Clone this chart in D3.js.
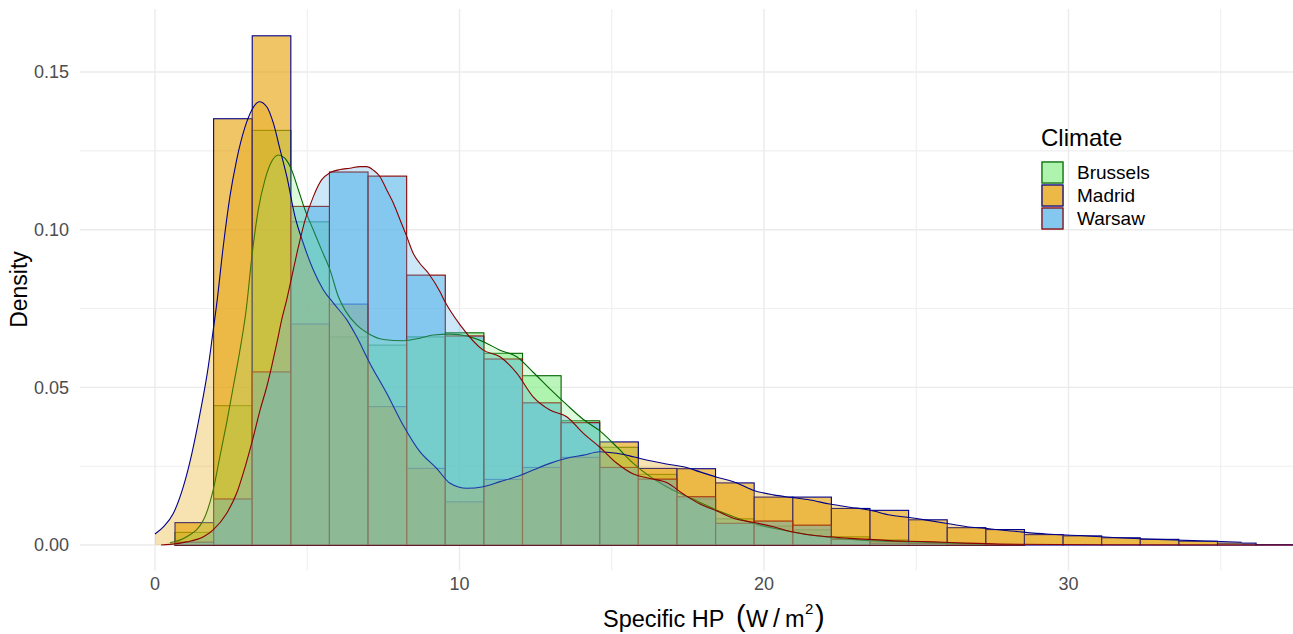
<!DOCTYPE html>
<html><head><meta charset="utf-8">
<script src="https://cdn.jsdelivr.net/npm/d3@7"></script>
<style>body{margin:0;background:#fff;} svg{display:block;font-family:"Liberation Sans",Arial,sans-serif;}</style>
</head><body><svg id="chart" width="1293" height="634"></svg>
<script>
const climates = ["Brussels", "Madrid", "Warsaw"];
const fillColors = ["#90EE90", "#E69F00", "#56B4E9"];
const lineColors = ["#006400", "#00008B", "#8B0000"];

const binEdges = [-0.611, 0.657, 1.925, 3.193, 4.461, 5.729, 6.997, 8.265, 9.533, 10.801, 12.069, 13.337, 14.605, 15.873, 17.141, 18.409, 19.677, 20.945, 22.213, 23.481, 24.749, 26.017, 27.285, 28.553, 29.821, 31.089, 32.357, 33.625, 34.893, 36.161, 37.429];

const histBrussels = [0, 0.0040, 0.0442, 0.1315, 0.1025, 0.0660, 0.0634, 0.0660, 0.0673, 0.0608, 0.0537, 0.0394, 0.0310, 0.0224, 0.0146, 0.0083, 0.0060, 0.0048, 0.0026, 0.0016, 0.0005, 0.0002, 0.0001, 0, 0, 0, 0, 0, 0, 0];
const histMadrid = [0, 0.0071, 0.1352, 0.1615, 0.0701, 0.0764, 0.0439, 0.0243, 0.0137, 0.0208, 0.0246, 0.0278, 0.0327, 0.0243, 0.0242, 0.0197, 0.0152, 0.0152, 0.0116, 0.0110, 0.0080, 0.0055, 0.0049, 0.0033, 0.0029, 0.0023, 0.0018, 0.0012, 0.0006, 0.0001];
const histWarsaw = [0, 0.0009, 0.0146, 0.0549, 0.1074, 0.1183, 0.1170, 0.0856, 0.0663, 0.0590, 0.0451, 0.0388, 0.0246, 0.0209, 0.0153, 0.0069, 0.0076, 0.0063, 0.0018, 0.0006, 0.0005, 0.0002, 0.0001, 0, 0, 0, 0, 0, 0, 0];

const densBrusselsX = [0.49, 1.04, 1.59, 1.91, 2.13, 2.35, 2.57, 2.79, 3.0, 3.18, 3.39, 3.61, 3.83, 4.05, 4.27, 4.49, 4.71, 4.93, 5.2, 5.47, 5.75, 6.02, 6.24, 6.62, 7.0, 7.5, 8.15, 8.7, 9.14, 9.69, 10.24, 10.78, 11.33, 11.88, 12.42, 12.97, 13.52, 14.07, 14.61, 15.16, 15.71, 16.26, 16.8, 17.35, 17.9, 18.45, 19.0, 19.64, 20.9, 22.16, 23.46, 24.72, 25.98, 27.23];
const densBrusselsY = [0.0007, 0.0026, 0.0079, 0.0174, 0.028, 0.0386, 0.0502, 0.0618, 0.0750, 0.0914, 0.1062, 0.1158, 0.1216, 0.1237, 0.1226, 0.1189, 0.1126, 0.1062, 0.0999, 0.0936, 0.0872, 0.0788, 0.0745, 0.0698, 0.0671, 0.0652, 0.0648, 0.0656, 0.0666, 0.0669, 0.0663, 0.0645, 0.0618, 0.0597, 0.0548, 0.0495, 0.0445, 0.0398, 0.0362, 0.0312, 0.0259, 0.0217, 0.0185, 0.0159, 0.0135, 0.0110, 0.0090, 0.0069, 0.0042, 0.0024, 0.0014, 0.0010, 0.0006, 0.0003];

const densMadridX = [0, 0.3, 0.6, 0.93, 1.21, 1.48, 1.75, 1.91, 2.03, 2.24, 2.46, 2.68, 2.96, 3.18, 3.43, 3.67, 3.89, 4.11, 4.33, 4.6, 4.87, 5.2, 5.53, 5.86, 6.3, 6.62, 7.06, 7.61, 8.15, 8.7, 9.25, 9.69, 10.24, 10.78, 11.33, 11.88, 12.42, 12.97, 13.52, 14.07, 14.61, 15.16, 15.71, 16.26, 16.8, 17.35, 17.9, 18.45, 19.0, 19.64, 20.31, 20.9, 21.51, 22.16, 22.82, 23.46, 24.14, 24.72, 25.34, 25.98, 26.66, 27.23, 28.5, 29.28, 30.38, 31.47, 32.35, 33.22, 34.1, 34.76, 35.69];
const densMadridY = [0.0035, 0.0060, 0.0100, 0.0185, 0.0290, 0.0418, 0.0566, 0.0680, 0.0767, 0.0946, 0.1105, 0.1221, 0.1327, 0.1380, 0.1406, 0.1390, 0.1337, 0.1253, 0.1168, 0.1041, 0.0957, 0.0872, 0.0809, 0.0767, 0.0714, 0.0661, 0.0576, 0.0481, 0.0380, 0.0296, 0.0243, 0.0196, 0.0180, 0.0185, 0.0201, 0.0217, 0.0238, 0.0259, 0.0275, 0.0285, 0.0296, 0.0291, 0.0280, 0.0267, 0.0257, 0.0248, 0.0232, 0.0215, 0.0201, 0.0174, 0.0159, 0.0151, 0.0143, 0.0130, 0.0120, 0.0111, 0.0095, 0.0088, 0.0079, 0.0069, 0.0058, 0.0053, 0.0041, 0.0035, 0.0030, 0.0024, 0.0020, 0.0017, 0.0014, 0.0012, 0.0009];

const densWarsawX = [0.2, 0.49, 1.04, 1.59, 1.91, 2.35, 2.68, 2.96, 3.23, 3.45, 3.67, 3.83, 4.0, 4.16, 4.33, 4.49, 4.71, 4.93, 5.2, 5.47, 5.75, 6.08, 6.4, 6.73, 6.95, 7.17, 7.39, 7.61, 7.83, 8.05, 8.27, 8.48, 8.7, 8.98, 9.36, 9.52, 10.02, 10.78, 11.33, 11.88, 12.42, 12.97, 13.52, 14.07, 14.61, 15.16, 15.71, 16.26, 16.8, 17.35, 17.9, 18.45, 19.0, 19.64, 20.31, 20.9, 21.51, 22.16, 22.82, 23.46, 24.14, 24.72, 25.56, 26.6, 27.75, 31.0, 37.4];
const densWarsawY = [0.0, 0.0002, 0.0010, 0.0026, 0.0048, 0.0100, 0.0164, 0.0248, 0.0343, 0.0428, 0.0502, 0.0566, 0.0640, 0.0714, 0.0780, 0.0850, 0.0946, 0.1031, 0.1105, 0.1158, 0.1181, 0.1191, 0.1195, 0.1200, 0.1200, 0.1189, 0.1168, 0.1126, 0.1084, 0.1031, 0.0978, 0.0925, 0.0893, 0.0862, 0.0803, 0.0772, 0.0698, 0.0618, 0.0597, 0.0545, 0.0470, 0.0428, 0.0407, 0.0354, 0.0310, 0.0260, 0.0225, 0.0211, 0.0198, 0.0162, 0.0130, 0.0108, 0.0085, 0.0072, 0.0058, 0.0042, 0.0032, 0.0026, 0.0021, 0.0018, 0.0014, 0.0012, 0.0010, 0.0006, 0.0003, 0.0001, 0.0];

const xMajor = [0, 10, 20, 30];
const xMinor = [5, 15, 25, 35];
const yMajor = [0, 0.05, 0.10, 0.15];
const yMinor = [0.025, 0.075, 0.125];

const hists = [histBrussels, histMadrid, histWarsaw];
const dens = [
  d3.zip(densBrusselsX, densBrusselsY),
  d3.zip(densMadridX, densMadridY),
  d3.zip(densWarsawX, densWarsawY)
];

const svg = d3.select("#chart");
const P = {left: 80, right: 1293, top: 9, bottom: 570.5};
const x = d3.scaleLinear().domain([-2.463, 37.373]).range([P.left, P.right]);
const y = d3.scaleLinear().domain([-0.00808, 0.17]).range([P.bottom, P.top]);

svg.append("defs").append("clipPath").attr("id", "clip")
  .append("rect").attr("x", P.left).attr("y", P.top).attr("width", P.right - P.left).attr("height", P.bottom - P.top);

const grid = svg.append("g");
grid.selectAll(".ymin").data(yMinor).join("line")
  .attr("x1", P.left).attr("x2", P.right).attr("y1", d => y(d)).attr("y2", d => y(d))
  .attr("stroke", "#efefef").attr("stroke-width", 1.1);
grid.selectAll(".xmin").data(xMinor).join("line")
  .attr("y1", P.top).attr("y2", P.bottom).attr("x1", d => x(d)).attr("x2", d => x(d))
  .attr("stroke", "#efefef").attr("stroke-width", 1.1);
grid.selectAll(".ymaj").data(yMajor).join("line")
  .attr("x1", P.left).attr("x2", P.right).attr("y1", d => y(d)).attr("y2", d => y(d))
  .attr("stroke", "#ebebeb").attr("stroke-width", 1.4);
grid.selectAll(".xmaj").data(xMajor).join("line")
  .attr("y1", P.top).attr("y2", P.bottom).attr("x1", d => x(d)).attr("x2", d => x(d))
  .attr("stroke", "#ebebeb").attr("stroke-width", 1.4);

const plot = svg.append("g").attr("clip-path", "url(#clip)");

// histograms (identity position), in group order
hists.forEach((h, gi) => {
  const bins = h.map((v, i) => ({x0: binEdges[i], x1: binEdges[i + 1], v}));
  plot.append("g").selectAll("rect").data(bins).join("rect")
    .attr("x", d => x(d.x0)).attr("width", d => x(d.x1) - x(d.x0))
    .attr("y", d => y(d.v)).attr("height", d => y(0) - y(d.v))
    .attr("fill", fillColors[gi]).attr("fill-opacity", 0.6)
    .attr("stroke", lineColors[gi]).attr("stroke-width", 1.1);
});

// densities
const area = d3.area().x(d => x(d[0])).y0(y(0)).y1(d => y(d[1])).curve(d3.curveMonotoneX);
const line = d3.line().x(d => x(d[0])).y(d => y(d[1])).curve(d3.curveMonotoneX);
dens.forEach((dd, gi) => {
  plot.append("path").datum(dd).attr("d", area)
    .attr("fill", fillColors[gi]).attr("fill-opacity", 0.3).attr("stroke", "none");
  plot.append("path").datum(dd).attr("d", line)
    .attr("fill", "none").attr("stroke", lineColors[gi]).attr("stroke-width", 1.1);
});

// axis labels
svg.append("g").selectAll("text").data(yMajor).join("text")
  .attr("x", 69).attr("y", d => y(d)).attr("dy", "0.35em").attr("text-anchor", "end")
  .attr("font-size", 18).attr("fill", "#4d4d4d").text(d => d3.format(".2f")(d));
svg.append("g").selectAll("text").data(xMajor).join("text")
  .attr("x", d => x(d)).attr("y", 590).attr("text-anchor", "middle")
  .attr("font-size", 18).attr("fill", "#4d4d4d").text(d => d);

svg.append("text").attr("transform", "translate(19,289.5) rotate(-90)")
  .attr("dy", "0.35em").attr("text-anchor", "middle").attr("font-size", 23).attr("fill", "#000").text("Density");

// x title (plotmath-like: Specific HP  (W/m^2))
const xt = svg.append("g").attr("font-size", 23.5).attr("fill", "#000");
xt.append("text").attr("x", 603).attr("y", 627).text("Specific HP");
xt.append("text").attr("x", 736).attr("y", 626).attr("font-size", 29).text("(");
xt.append("text").attr("x", 746).attr("y", 627).text("W");
xt.append("text").attr("x", 773).attr("y", 627).attr("font-size", 25).text("/");
xt.append("text").attr("x", 785).attr("y", 627).text("m");
xt.append("text").attr("x", 805).attr("y", 614).attr("font-size", 15).text("2");
xt.append("text").attr("x", 815).attr("y", 626).attr("font-size", 29).text(")");

// legend
const lg = svg.append("g");
lg.append("text").attr("x", 1041).attr("y", 146).attr("font-size", 24).attr("fill", "#000").text("Climate");
climates.forEach((c, i) => {
  const ky = 162 + i * 23;
  lg.append("rect").attr("x", 1042).attr("y", ky).attr("width", 21).attr("height", 21)
    .attr("fill", fillColors[i]).attr("fill-opacity", 0.6).attr("stroke", lineColors[i]).attr("stroke-width", 1.1);
  lg.append("rect").attr("x", 1042).attr("y", ky).attr("width", 21).attr("height", 21)
    .attr("fill", fillColors[i]).attr("fill-opacity", 0.3).attr("stroke", lineColors[i]).attr("stroke-opacity", 0.6).attr("stroke-width", 1.1);
  lg.append("text").attr("x", 1077).attr("y", ky + 10.5).attr("dy", "0.35em")
    .attr("font-size", 19).attr("fill", "#000").text(c);
});
</script>
</body></html>
